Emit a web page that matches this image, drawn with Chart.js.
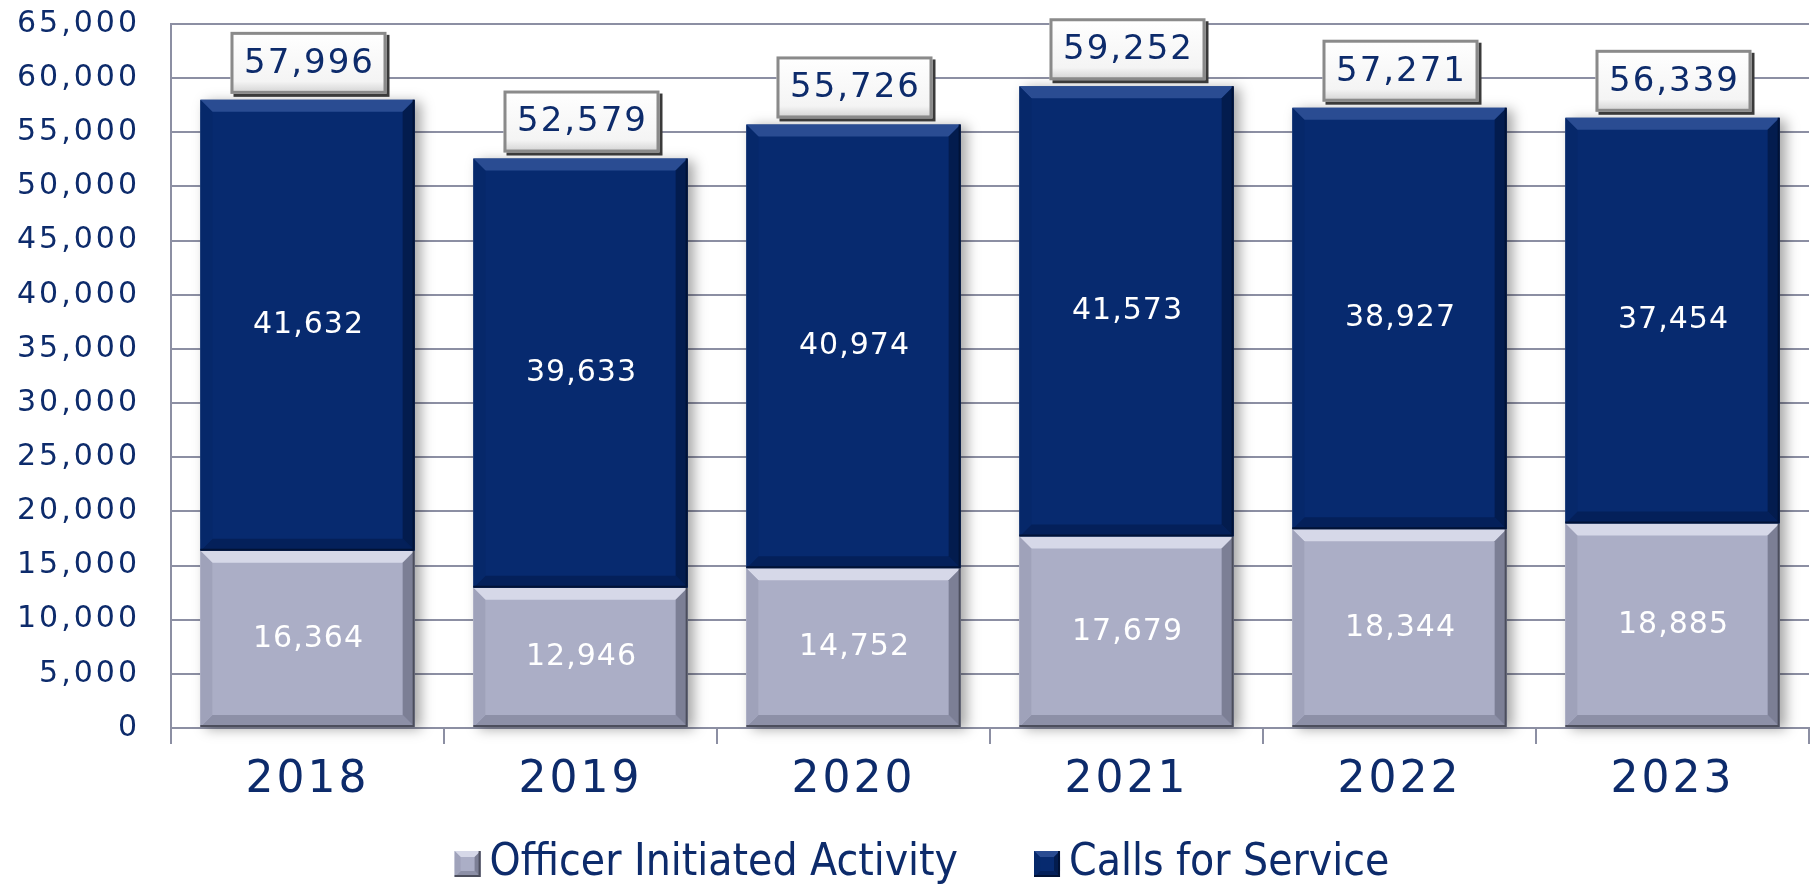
<!DOCTYPE html>
<html>
<head>
<meta charset="utf-8">
<script src="https://cdn.jsdelivr.net/npm/chart.js@4.4.1/dist/chart.umd.min.js"></script>
<style>
    html, body { margin: 0; padding: 0; background: #ffffff; }
    #wrap { width: 1816px; height: 886px; }
</style>
</head>
<body>
<div id="wrap"><canvas id="callsChart" width="1816" height="886"></canvas></div>
<script>
const years = ['2018', '2019', '2020', '2021', '2022', '2023'];
const seriesNames = ['Officer Initiated Activity', 'Calls for Service'];
const officerInitiated = [16364, 12946, 14752, 17679, 18344, 18885];
const callsForService = [41632, 39633, 40974, 41573, 38927, 37454];
const yMax = 65000;
const yStep = 5000;

const NAVY = '#0d2b6b';
const GRID = '#8c8fa3';
const FONT = "'DejaVu Sans', sans-serif";
const LEGEND_FONT = "'DejaVu Sans Condensed', 'Liberation Sans Narrow', sans-serif";

const fmt = v => Number(v).toLocaleString('en-US');

// bevel colours per dataset
const bevels = [
    { top: '#d6d8e8', left: '#9fa2ba', right: '#7c7f95', bottom: '#8d90a7', edge: '#4c4e5c' },
    { top: '#2a4c92', left: '#06286a', right: '#031c4e', bottom: '#04205a', edge: '#011236' }
];

function drawBevel(ctx, l, t, r, b, s, c) {
    const poly = (pts, col) => {
        ctx.beginPath();
        ctx.moveTo(pts[0][0], pts[0][1]);
        for (let i = 1; i < pts.length; i++) ctx.lineTo(pts[i][0], pts[i][1]);
        ctx.closePath();
        ctx.fillStyle = col;
        ctx.fill();
    };
    s = Math.min(s, (b - t) / 2, (r - l) / 2);
    poly([[l, t], [r, t], [r - s, t + s], [l + s, t + s]], c.top);
    poly([[l, b], [r, b], [r - s, b - s], [l + s, b - s]], c.bottom);
    poly([[l, t], [l + s, t + s], [l + s, b - s], [l, b]], c.left);
    poly([[r, t], [r - s, t + s], [r - s, b - s], [r, b]], c.right);
    ctx.strokeStyle = c.edge;
    ctx.lineWidth = 2;
    ctx.beginPath();
    ctx.moveTo(r - 1, t);
    ctx.lineTo(r - 1, b - 1);
    ctx.lineTo(l, b - 1);
    ctx.stroke();
}

const barDecor = {
    id: 'barDecor',
    beforeDraw(chart) {
        // wider tracking for the axis labels
        chart.ctx.letterSpacing = '3px';
    },
    beforeDatasetsDraw(chart) {
        const ctx = chart.ctx;
        const low = chart.getDatasetMeta(0).data;
        const high = chart.getDatasetMeta(1).data;
        ctx.save();
        low.forEach((bar, i) => {
            const top = high[i].y;
            const w = bar.width;
            ctx.shadowColor = 'rgba(0,0,0,0.35)';
            ctx.shadowBlur = 12;
            ctx.shadowOffsetX = 6;
            ctx.shadowOffsetY = 2;
            ctx.fillStyle = '#ffffff';
            ctx.fillRect(bar.x - w / 2, top, w, bar.base - top);
        });
        ctx.restore();
    },
    afterDatasetsDraw(chart) {
        const ctx = chart.ctx;
        ctx.save();
        [0, 1].forEach(d => {
            chart.getDatasetMeta(d).data.forEach((bar, i) => {
                const l = bar.x - bar.width / 2, r = bar.x + bar.width / 2;
                drawBevel(ctx, l, bar.y, r, bar.base, 12, bevels[d]);
                const v = chart.data.datasets[d].data[i];
                ctx.font = '30px ' + FONT;
                ctx.letterSpacing = '1px';
                ctx.fillStyle = '#ffffff';
                ctx.textAlign = 'center';
                ctx.textBaseline = 'middle';
                ctx.fillText(fmt(v), bar.x + 1, (bar.y + bar.base) / 2);
            });
        });

        // total boxes
        const high = chart.getDatasetMeta(1).data;
        high.forEach((bar, i) => {
            const total = officerInitiated[i] + callsForService[i];
            const bw = 156, bh = 62;
            const l = bar.x - bw / 2 + 1;
            const t = bar.y - 6 - bh;
            ctx.fillStyle = '#3a3a3a';
            ctx.fillRect(l + 3, t + 3, bw, bh);
            const g = ctx.createLinearGradient(0, t, 0, t + bh);
            g.addColorStop(0, '#ffffff');
            g.addColorStop(0.8, '#f4f4f4');
            g.addColorStop(1, '#d0d0d0');
            ctx.fillStyle = g;
            ctx.fillRect(l, t, bw, bh);
            ctx.strokeStyle = '#8a8a8a';
            ctx.lineWidth = 3;
            ctx.strokeRect(l + 1.5, t + 1.5, bw - 3, bh - 3);
            ctx.font = '34px ' + FONT;
            ctx.letterSpacing = '2px';
            ctx.fillStyle = NAVY;
            ctx.textAlign = 'center';
            ctx.textBaseline = 'middle';
            ctx.fillText(fmt(total), l + bw / 2 + 1, t + bh / 2 + 1);
        });
        ctx.restore();
        ctx.letterSpacing = '3px';
    },
    afterDraw(chart) {
        // legend under the axis
        const ctx = chart.ctx;
        ctx.save();
        ctx.letterSpacing = '0px';
        ctx.font = '44px ' + LEGEND_FONT;
        ctx.textBaseline = 'middle';
        ctx.textAlign = 'left';
        const box = 26, gapText = 9, gapItem = 76;
        const items = chart.data.datasets.map((ds, d) => ({
            text: ds.label, color: ds.backgroundColor, bevel: bevels[d],
            w: ctx.measureText(ds.label).width
        }));
        let total = 0;
        items.forEach((it, k) => { total += box + gapText + it.w + (k ? gapItem : 0); });
        let x = chart.width / 2 + 14 - total / 2;
        const cy = 864;
        items.forEach(it => {
            ctx.fillStyle = it.color;
            ctx.fillRect(x, cy - box / 2, box, box);
            drawBevel(ctx, x, cy - box / 2, x + box, cy + box / 2, 6, it.bevel);
            ctx.fillStyle = NAVY;
            ctx.fillText(it.text, x + box + gapText, cy);
            x += box + gapText + it.w + gapItem;
        });
        ctx.restore();
        ctx.letterSpacing = '0px';
    }
};

new Chart(document.getElementById('callsChart').getContext('2d'), {
    type: 'bar',
    data: {
        labels: years,
        datasets: [{
            label: seriesNames[0],
            data: officerInitiated,
            backgroundColor: '#abaec6',
            borderWidth: 0
        }, {
            label: seriesNames[1],
            data: callsForService,
            backgroundColor: '#072a6f',
            borderWidth: 0
        }]
    },
    options: {
        responsive: false,
        animation: false,
        devicePixelRatio: 1,
        categoryPercentage: 1,
        barPercentage: 0.785,
        layout: { padding: { top: 24, right: 7, left: 0, bottom: 58 } },
        plugins: {
            tooltip: { enabled: false },
            legend: { display: false }
        },
        scales: {
            x: {
                stacked: true,
                grid: { offset: true, drawOnChartArea: false, tickLength: 16, color: GRID, lineWidth: 2 },
                border: { color: GRID, width: 2 },
                ticks: { color: NAVY, padding: 10, font: { family: FONT, size: 44 } },
                afterFit: s => { s.height = 100; }
            },
            y: {
                stacked: true,
                min: 0,
                max: yMax,
                grid: { color: GRID, lineWidth: 2, drawTicks: false },
                border: { color: GRID, width: 2 },
                ticks: {
                    stepSize: yStep,
                    padding: 31,
                    color: NAVY,
                    font: { family: FONT, size: 30 },
                    callback: v => fmt(v)
                },
                afterFit: s => {
                    s.width = 171;
                    s.paddingTop = 0;
                    s.paddingBottom = 0;
                }
            }
        }
    },
    plugins: [barDecor]
});
</script>
</body>
</html>
